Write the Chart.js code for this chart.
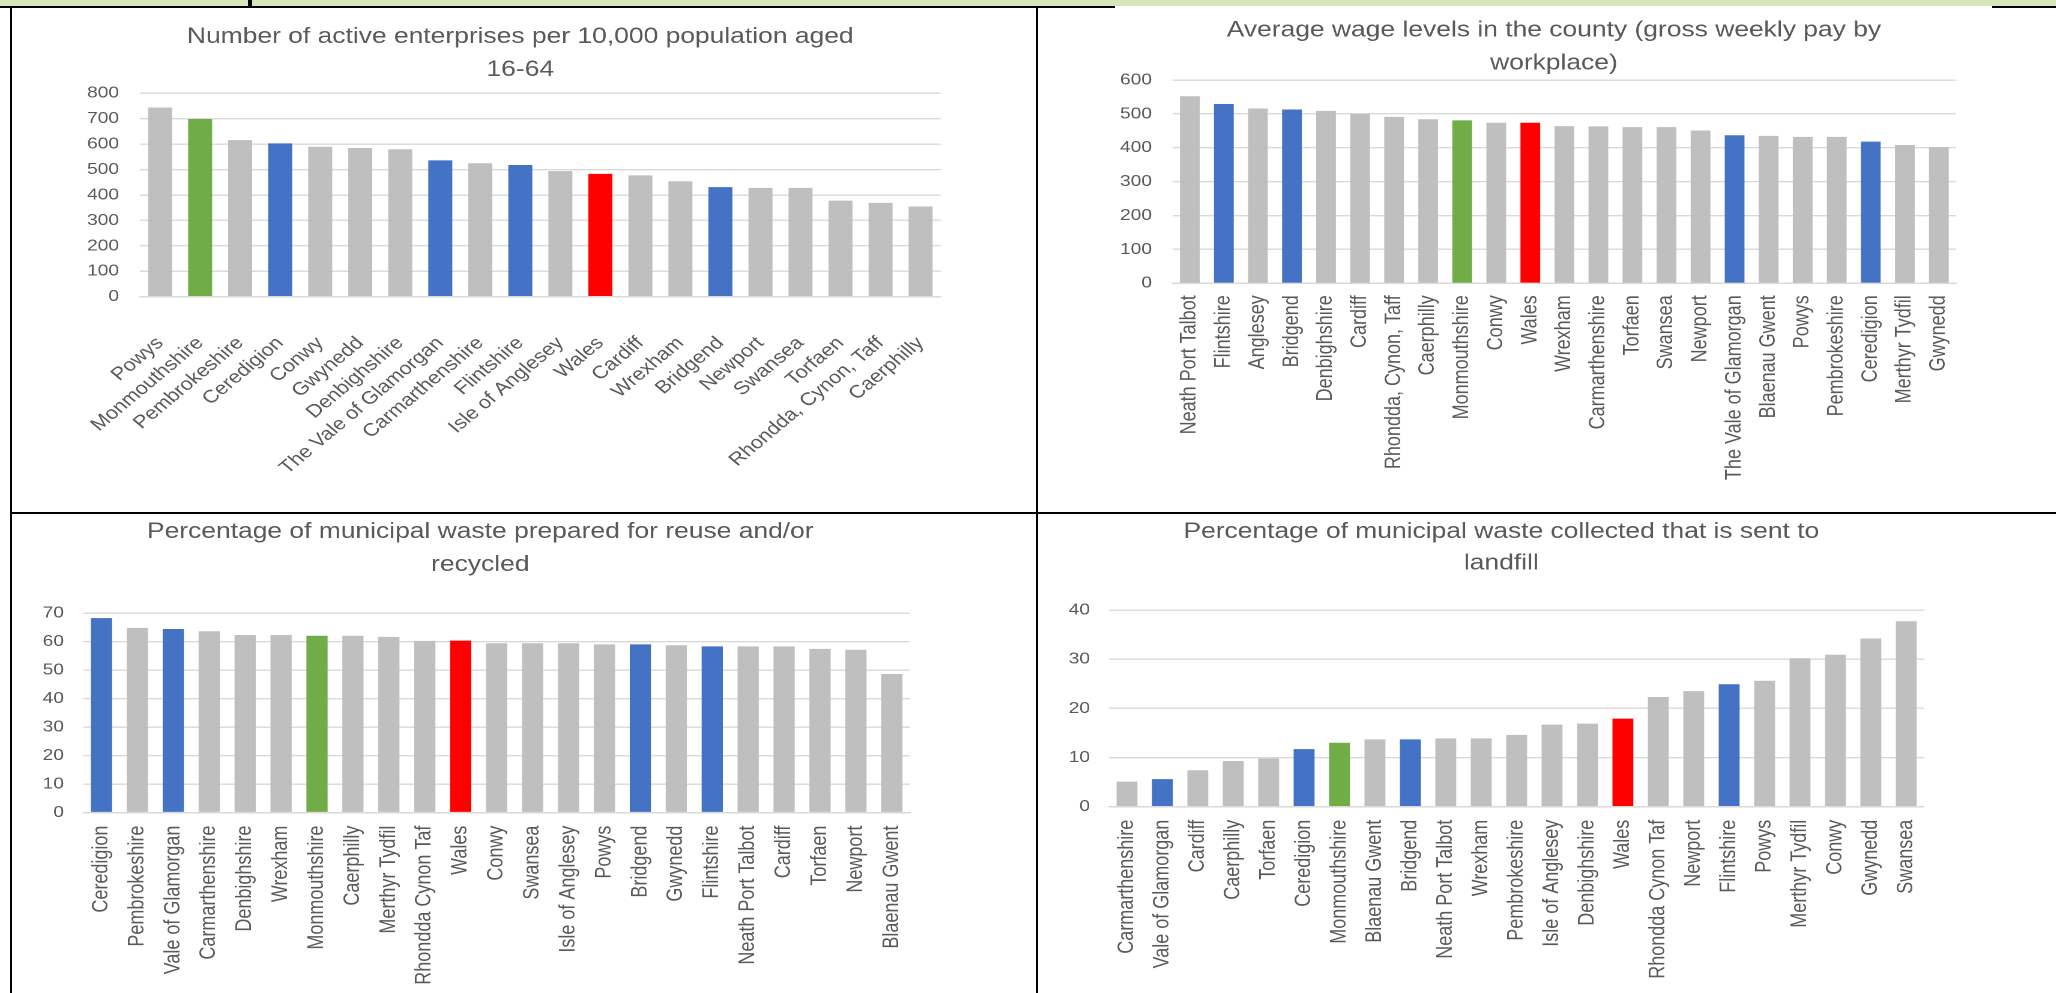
<!DOCTYPE html>
<html>
<head>
<meta charset="utf-8">
<title>Local authority indicators – Wales</title>
<script src="https://cdn.jsdelivr.net/npm/chart.js@4/dist/chart.umd.min.js"></script>
<style>
  html, body { margin: 0; padding: 0; background: #fff; }
  body { width: 2056px; height: 993px; overflow: hidden; position: relative; }
  .rule { position: absolute; z-index: 5; background: #000; }
  .panel { position: absolute; }
  .panel .inner { position: absolute; left: 0; top: 0; transform-origin: 0 0; }
</style>
</head>
<body>
<!-- table frame -->
<div class="rule" style="left:0;top:0;width:2056px;height:6px;background:#d8e4bc"></div>
<div class="rule" style="left:0;top:6px;width:1115px;height:2px"></div>
<div class="rule" style="left:1992px;top:6px;width:64px;height:2px"></div>
<div class="rule" style="left:248px;top:0;width:4px;height:6px"></div>
<div class="rule" style="left:10px;top:6px;width:2px;height:987px"></div>
<div class="rule" style="left:1036px;top:6px;width:2px;height:987px"></div>
<div class="rule" style="left:10px;top:512px;width:2046px;height:2px"></div>

<script>
// ---- Active enterprises per 10,000 population aged 16-64 ----
const enterpriseAreas = ['Powys', 'Monmouthshire', 'Pembrokeshire', 'Ceredigion', 'Conwy', 'Gwynedd',
  'Denbighshire', 'The Vale of Glamorgan', 'Carmarthenshire', 'Flintshire', 'Isle of Anglesey', 'Wales',
  'Cardiff', 'Wrexham', 'Bridgend', 'Newport', 'Swansea', 'Torfaen', 'Rhondda, Cynon, Taff', 'Caerphilly'];
const enterpriseValues = [744, 699, 616, 603, 590, 585, 580, 536, 525, 518, 494, 483, 477, 454, 431, 428, 428, 378, 369, 355];

// ---- Average gross weekly pay by workplace ----
const wageAreas = ['Neath Port Talbot', 'Flintshire', 'Anglesey', 'Bridgend', 'Denbighshire', 'Cardiff',
  'Rhondda, Cynon, Taff', 'Caerphilly', 'Monmouthshire', 'Conwy', 'Wales', 'Wrexham', 'Carmarthenshire',
  'Torfaen', 'Swansea', 'Newport', 'The Vale of Glamorgan', 'Blaenau Gwent', 'Powys', 'Pembrokeshire',
  'Ceredigion', 'Merthyr Tydfil', 'Gwynedd'];
const wageValues = [552, 529, 516, 513, 509, 500, 491, 484, 481, 474, 474, 464, 463, 461, 461, 451, 437, 435, 432, 432, 418, 408, 402];

// ---- Municipal waste prepared for reuse and/or recycled (%) ----
const recycledAreas = ['Ceredigion', 'Pembrokeshire', 'Vale of Glamorgan', 'Carmarthenshire', 'Denbighshire',
  'Wrexham', 'Monmouthshire', 'Caerphilly', 'Merthyr Tydfil', 'Rhondda Cynon Taf', 'Wales', 'Conwy', 'Swansea',
  'Isle of Anglesey', 'Powys', 'Bridgend', 'Gwynedd', 'Flintshire', 'Neath Port Talbot', 'Cardiff', 'Torfaen',
  'Newport', 'Blaenau Gwent'];
const recycledValues = [68.3, 64.9, 64.5, 63.7, 62.4, 62.4, 62.1, 62.1, 61.7, 60.3, 60.4, 59.5, 59.5, 59.5, 59.1, 59.1, 58.8, 58.4, 58.4, 58.4, 57.5, 57.2, 48.7];

// ---- Municipal waste collected that is sent to landfill (%) ----
const landfillAreas = ['Carmarthenshire', 'Vale of Glamorgan', 'Cardiff', 'Caerphilly', 'Torfaen', 'Ceredigion',
  'Monmouthshire', 'Blaenau Gwent', 'Bridgend', 'Neath Port Talbot', 'Wrexham', 'Pembrokeshire',
  'Isle of Anglesey', 'Denbighshire', 'Wales', 'Rhondda Cynon Taf', 'Newport', 'Flintshire', 'Powys',
  'Merthyr Tydfil', 'Conwy', 'Gwynedd', 'Swansea'];
const landfillValues = [5.1, 5.6, 7.4, 9.3, 9.8, 11.7, 13.0, 13.7, 13.7, 13.9, 13.9, 14.6, 16.7, 16.9, 17.9, 22.3, 23.5, 24.9, 25.6, 30.2, 30.9, 34.2, 37.7];

// highlighted areas
const focusArea = 'Monmouthshire';
const nationalArea = 'Wales';
const comparatorAreas = ['Ceredigion', 'The Vale of Glamorgan', 'Vale of Glamorgan', 'Flintshire', 'Bridgend'];

const COLORS = { other: '#bfbfbf', comparator: '#4472c4', focus: '#70ad47', national: '#ff0000' };
const TEXT = '#595959';
const GRID = '#d9d9d9';
const FONT = '"Liberation Sans", Arial, sans-serif';
const STRETCH = 1.2;   // horizontal stretch of each panel

Chart.defaults.font.family = FONT;
Chart.defaults.color = TEXT;

function barColour(name) {
  if (name === nationalArea) return COLORS.national;
  if (name === focusArea) return COLORS.focus;
  if (comparatorAreas.includes(name)) return COLORS.comparator;
  return COLORS.other;
}

// two-line panel heading, centred on a given point of the canvas
const panelTitle = {
  id: 'panelTitle',
  afterDraw(chart, args, opts) {
    const ctx = chart.ctx;
    ctx.save();
    ctx.fillStyle = TEXT;
    ctx.font = '22px ' + FONT;
    ctx.textAlign = 'center';
    ctx.textBaseline = 'middle';
    opts.lines.forEach((line, i) => ctx.fillText(line, opts.x, opts.y + i * opts.gap));
    ctx.restore();
  }
};

function makePanel(p) {
  const panel = document.createElement('div');
  panel.className = 'panel';
  panel.style.left = p.left + 'px';
  panel.style.top = p.top + 'px';
  const inner = document.createElement('div');
  inner.className = 'inner';
  inner.style.width = p.w + 'px';
  inner.style.height = p.h + 'px';
  inner.style.transform = 'scaleX(' + STRETCH + ')';
  const canvas = document.createElement('canvas');
  inner.appendChild(canvas);
  panel.appendChild(inner);
  document.body.appendChild(panel);

  return new Chart(canvas, {
    type: 'bar',
    data: {
      labels: p.labels,
      datasets: [{
        data: p.values,
        backgroundColor: p.labels.map(barColour),
        borderWidth: 0,
        categoryPercentage: 1,
        barPercentage: p.barPct
      }]
    },
    plugins: [panelTitle],
    options: {
      responsive: true,
      maintainAspectRatio: false,
      animation: false,
      devicePixelRatio: 2,
      layout: { padding: { left: 0, right: p.padR, top: p.padT, bottom: 0 } },
      plugins: {
        legend: { display: false },
        tooltip: { enabled: false },
        title: { display: false },
        panelTitle: { lines: p.title, x: p.titleX, y: p.titleY, gap: p.titleGap }
      },
      scales: {
        x: {
          grid: { display: false, drawTicks: false },
          border: { display: true, color: GRID, width: 1.5 },
          ticks: {
            autoSkip: false,
            maxRotation: p.rot,
            minRotation: p.rot,
            padding: p.xPad,
            color: TEXT,
            font: { size: 18 }
          },
          afterFit: (s) => { s.height = p.xH; }
        },
        y: {
          min: 0,
          max: p.yMax,
          grid: { color: GRID, lineWidth: 1.4, drawTicks: false },
          border: { display: false },
          ticks: { stepSize: p.yStep, padding: p.yPad, color: TEXT, font: { size: 16 } },
          afterFit: (s) => { s.width = p.yW; }
        }
      }
    }
  });
}

makePanel({
  left: 0, top: 0, w: 866.67, h: 510,
  labels: enterpriseAreas, values: enterpriseValues, barPct: 0.6,
  title: ['Number of active enterprises per 10,000 population aged', '16-64'],
  titleX: 433.3, titleY: 36.7, titleGap: 33,
  padT: 93.3, padR: 83.33, yW: 116.67, yPad: 17.5, xH: 213.3,
  rot: 45, xPad: 36, yMax: 800, yStep: 100
});

makePanel({
  left: 1040, top: 0, w: 846.7, h: 512,
  labels: wageAreas, values: wageValues, barPct: 0.58,
  title: ['Average wage levels in the county (gross weekly pay by', 'workplace)'],
  titleX: 428, titleY: 30.5, titleGap: 33,
  padT: 80, padR: 83.9, yW: 110.6, yPad: 17.3, xH: 228.7,
  rot: 90, xPad: 12, yMax: 600, yStep: 100
});

makePanel({
  left: 0, top: 500, w: 862.5, h: 500,
  labels: recycledAreas, values: recycledValues, barPct: 0.59,
  title: ['Percentage of municipal waste prepared for reuse and/or', 'recycled'],
  titleX: 400, titleY: 31.7, titleGap: 33,
  padT: 113.3, padR: 104.75, yW: 69.5, yPad: 16.2, xH: 187.4,
  rot: 90, xPad: 13, yMax: 70, yStep: 10
});

makePanel({
  left: 1040, top: 500, w: 846.7, h: 500,
  labels: landfillAreas, values: landfillValues, barPct: 0.59,
  title: ['Percentage of municipal waste collected that is sent to', 'landfill'],
  titleX: 384.2, titleY: 31.7, titleGap: 31.5,
  padT: 110, padR: 110.5, yW: 57.7, yPad: 16, xH: 193.3,
  rot: 90, xPad: 13, yMax: 40, yStep: 10
});
</script>
</body>
</html>
